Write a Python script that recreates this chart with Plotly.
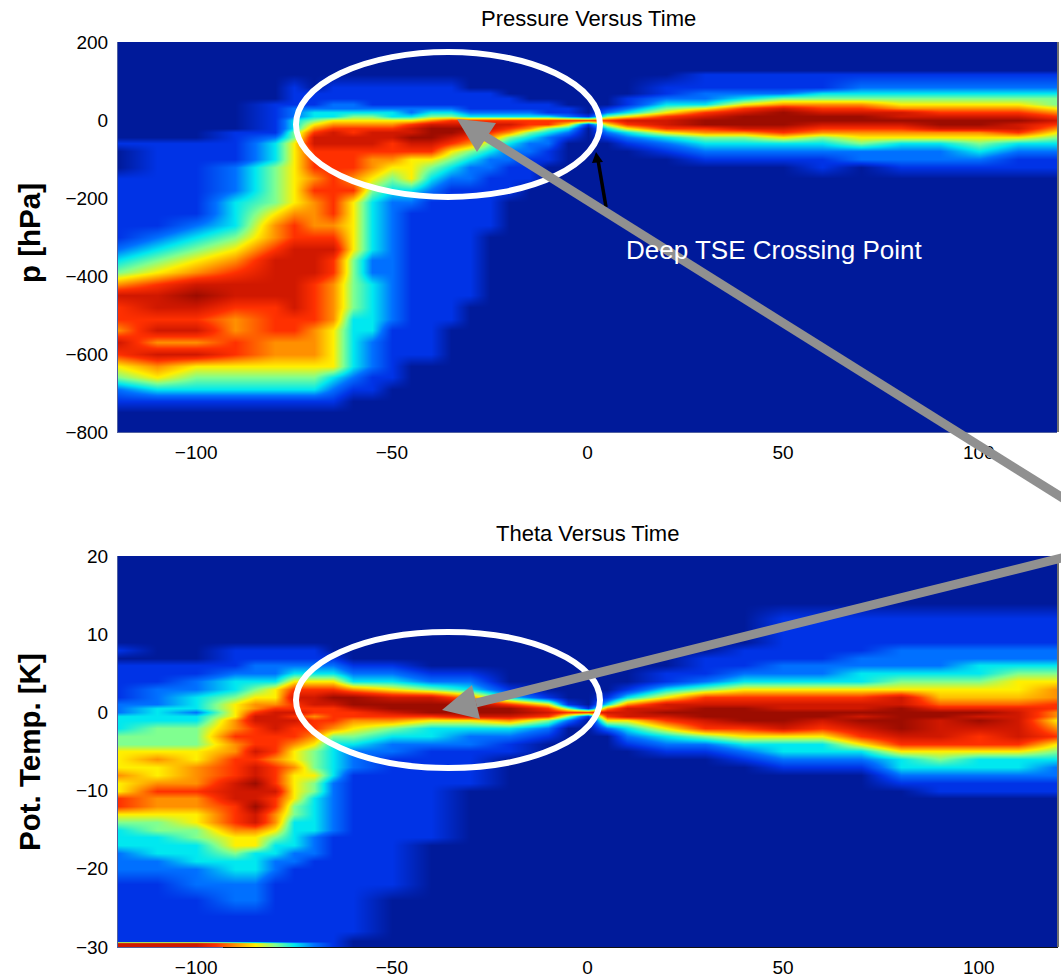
import plotly.graph_objects as go

W, H = 1061, 978

# Colour index: 0 = background navy ... 9 = darkest red
jet_colors = ["#001a9a", "#0033e6", "#0070ff", "#00e8f0", "#80ff90",
              "#fff000", "#ff9000", "#ff3000", "#d01800", "#9c0c00"]

p_levels = [128, 118, 85, 70, 55, 40, 30, 20, 10, 0, -10, -20, -30, -45, -60, -80, -100, -120,
            -150, -180, -210, -240, -270, -300, -330, -360, -390, -420, -450, -480, -510,
            -540, -570, -600, -630, -660, -690, -720, -750, -800]
p_times = [-120, -110, -100, -90, -80, -75, -70, -65, -60, -55, -50, -45, -40, -35, -30, -25, -20,
           -15, -10, -5, 0, 5, 10, 20, 30, 40, 50, 60, 70, 80, 90, 100, 110, 120]
# one list per time, from the top level downward; what is left out is background
p_density = [
    [0,0,0,0,0,0,0,0,0,0,0,0,0,0,1,0,0,0,1,1,1,1,1,1,2,3,4,6,8,7,7,6,8,7,5,4,2,1],
    [0,0,0,0,0,0,0,0,0,0,0,0,0,0,1,1,1,1,1,1,1,1,1,2,3,4,5,7,8,8,7,8,6,8,6,5,3,1],
    [0,0,0,0,0,0,0,0,0,0,0,0,0,0,1,1,1,1,1,1,1,1,2,3,4,5,6,8,9,8,7,8,6,8,5,4,3,1],
    [0,0,0,0,0,0,0,0,0,0,0,0,1,1,1,1,1,2,2,2,3,3,3,4,5,6,7,8,8,7,6,6,7,7,5,4,3,1],
    [0,0,0,0,0,1,1,1,1,1,1,1,1,2,3,3,3,4,4,4,4,5,6,6,7,8,8,8,8,7,7,7,6,6,5,4,3,1],
    [0,0,1,1,1,1,2,2,2,3,3,3,4,4,5,5,5,5,5,5,5,6,7,7,8,8,8,8,8,8,7,7,6,6,5,4,3,1],
    [0,0,0,1,1,1,2,3,3,4,5,6,7,8,8,7,7,7,6,7,6,6,6,7,8,8,8,7,7,7,7,6,6,6,5,4,3,1],
    [0,0,1,1,1,2,2,3,3,5,6,7,8,8,8,7,7,7,7,7,7,7,6,7,8,7,7,6,6,6,6,5,5,5,5,3,2,1],
    [0,0,1,1,1,2,2,3,4,5,6,7,7,8,8,7,7,7,6,7,5,5,5,5,5,4,4,4,4,4,3,3,3,3,3,2,1],
    [0,0,1,1,1,1,2,3,4,5,6,7,8,8,8,7,6,6,5,4,3,3,3,3,3,2,2,3,3,3,3,3,2,2,2,1,1],
    [0,0,1,1,1,1,2,3,3,5,6,7,8,8,7,7,6,5,4,3,2,2,2,2,2,2,2,2,2,2,2,1,1,1,1,1],
    [0,0,1,1,1,1,2,2,3,5,7,8,8,9,8,7,5,5,5,3,2,1,1,1,1,1,1,1,1,1,1,1,1,1],
    [0,0,1,1,1,1,2,3,4,6,8,9,9,9,8,7,5,4,3,2,1,1,1,1,1,1,1,1,1,1,1,1,1,1],
    [0,0,1,1,1,1,2,3,4,7,8,9,9,8,7,5,4,3,2,1,1,1,1,1,1,1,1,1,1,1,1],
    [0,0,0,1,1,1,1,2,3,7,8,9,8,7,6,4,3,2,2,1,1,1,1,1,1,1,1,1,1],
    [0,0,0,1,1,1,1,2,3,7,8,8,7,6,4,3,2,2,1,1,1,1,1],
    [0,0,0,0,1,1,1,2,3,7,8,7,6,4,3,2,2,1,1,1],
    [0,0,0,0,0,1,1,2,3,7,7,6,4,3,2,2,1,1,1],
    [0,0,0,0,0,1,1,1,3,7,7,4,3,2,2,1,1],
    [0,0,0,0,0,0,1,1,2,7,5,3,2,1],
    [0,0,0,0,0,0,0,0,1,7,1],
    [0,0,0,0,0,0,1,2,4,7,5,3,2,1],
    [0,0,0,0,1,1,2,3,5,8,7,5,3,2,1],
    [0,0,1,1,2,3,4,5,7,8,8,7,5,3,2,1],
    [0,1,1,2,2,3,5,7,8,9,9,7,6,4,3,2,1],
    [0,1,1,2,3,5,7,8,9,9,9,8,6,4,3,2,1],
    [0,1,1,2,4,6,8,9,9,9,9,8,7,5,3,2,1],
    [0,1,1,3,4,6,7,8,9,9,8,7,6,4,3,2,1,1],
    [0,1,2,3,4,6,7,8,9,9,8,7,6,5,4,2,2],
    [0,1,2,3,4,5,6,8,8,9,8,7,6,5,3,2,2,1],
    [0,1,2,3,4,5,6,7,8,9,9,8,6,5,3,2,2,1],
    [0,1,2,3,4,5,6,7,8,9,9,8,6,5,4,3,2,1],
    [0,1,2,3,4,5,6,7,8,9,8,8,7,5,3,2,1,1],
    [0,1,2,3,4,4,5,6,7,8,7,6,5,4,3,2,1,1],
]

t_levels = [14, 12, 9, 8, 7, 6, 5, 4, 3, 2, 1, 0.5, 0, -0.5, -1, -2, -3, -4, -5, -6, -7, -8, -9, -10,
            -11, -12, -13, -14, -15, -16, -17, -18, -19, -20, -22, -24, -26, -28, -29.2, -29.5, -30]
t_times = [-120, -110, -100, -90, -85, -80, -75, -70, -65, -60, -50, -40, -30, -20, -10, -5, 0, 5, 10,
           20, 30, 40, 50, 60, 70, 80, 90, 100, 110, 120]
t_density = [
    [0,0,0,1,0,1,1,1,1,1,2,2,2,3,3,3,4,4,5,5,5,6,5,5,7,7,5,4,3,3,3,2,2,2,1,1,1,1,1,8,8],
    [0,0,0,0,0,1,1,1,2,2,2,3,3,3,3,4,4,4,5,6,5,5,6,7,6,6,5,4,4,3,3,3,2,2,1,1,1,1,1,8,8],
    [0,0,0,0,0,1,1,2,2,3,3,3,2,3,3,4,4,4,5,5,6,6,6,7,6,6,5,5,4,4,3,3,3,2,2,1,1,1,1,8,8],
    [0,0,0,1,1,1,2,3,3,4,5,5,5,5,6,6,7,6,6,7,7,7,8,8,8,7,7,7,6,5,5,4,3,3,2,2,1,1,1,6,6],
    [0,0,0,1,1,2,2,3,4,5,6,6,7,8,8,7,7,7,8,7,8,8,9,8,8,9,8,8,6,5,5,3,3,3,2,2,1,1,1,5,5],
    [0,0,0,1,1,2,2,3,5,5,6,7,8,8,8,8,7,7,7,6,7,7,7,8,7,7,6,6,5,4,3,3,2,2,1,1,1,1,1,4,4],
    [0,0,0,1,1,2,3,5,7,8,7,7,8,7,8,7,7,6,5,5,6,5,5,5,5,4,4,3,3,3,3,2,2,1,1,1,1,1,1,3,3],
    [0,0,0,1,1,2,3,5,7,8,8,7,7,6,7,7,6,5,4,4,4,5,4,4,3,3,3,3,3,2,2,2,1,1,1,1,1,1,1,2,2],
    [0,0,0,0,1,2,3,5,7,9,8,7,7,7,7,6,4,3,3,3,3,3,2,2,2,2,2,2,2,1,1,1,1,1,1,1,1,1,1,1,1],
    [0,0,0,0,0,1,2,3,6,9,9,8,7,7,6,5,4,3,2,2,2,1,1,1,1,1,1,1,1,1,1,1,1,1,1,1,1,1],
    [0,0,0,0,0,1,2,3,5,8,9,9,8,7,6,4,3,2,2,1,1,1,1,1,1,1,1,1,1,1,1,1,1,1,1],
    [0,0,0,0,0,0,1,2,4,8,9,9,9,7,5,3,3,2,1,1,1,1,1,1,1,1,1,1,1,1],
    [0,0,0,0,0,0,1,2,3,6,9,9,9,8,5,3,2,2,1,1,1,1,1],
    [0,0,0,0,0,0,0,0,1,3,7,9,9,8,6,3,2,1,1],
    [0,0,0,0,0,0,0,0,0,1,5,7,8,7,4,2,1],
    [0,0,0,0,0,0,0,0,0,0,1,4,7,4,2],
    [0,0,0,0,0,0,0,0,0,0,0,1,7,1],
    [0,0,0,0,0,0,0,0,0,1,3,6,8,7,5,2],
    [0,0,0,0,0,0,0,0,1,3,6,8,8,8,5,3,2,1],
    [0,0,0,0,0,0,1,1,3,5,8,8,9,8,7,5,3,2,1],
    [0,0,0,0,1,1,1,2,4,7,8,9,9,9,8,7,4,2,1],
    [0,0,0,1,1,1,2,3,5,7,8,9,9,9,9,7,5,3,2,1],
    [0,1,1,1,1,2,2,3,5,7,8,8,9,9,9,8,5,3,3,2,1],
    [0,1,1,1,1,2,2,3,5,7,8,8,9,9,8,7,5,3,3,2,1],
    [0,1,1,1,2,2,3,3,5,7,8,8,9,8,9,8,7,5,3,2,1],
    [0,1,1,2,2,2,3,4,5,8,8,9,9,9,9,9,8,7,5,3,3,2,1],
    [0,1,1,2,2,2,3,4,5,5.5,6.5,7.5,9,9,8,8,8,7,5,4,3,2,1,1],
    [0,1,1,2,2,3,3,4,5,5.5,6.5,7.5,9,8,9,8,7,7,5,3,3,2,1,1],
    [0,1,1,2,2,3,4,5,5,5.5,6.5,7.5,8,8,8,8,8,7,5,3,3,2,1,1],
    [0,1,1,2,2,3,4,5,6,6,7,7,6,6,5,6,7,5,4,3,2,2,1,1],
]

x_ticks = [-100, -50, 0, 50, 100]
p_ticks = [200, 0, -200, -400, -600, -800]
t_ticks = [20, 10, 0, -10, -20, -30]

def pad(cols, n):
    return [c + [0] * (n - len(c)) for c in cols]

def to_rows(cols, n):
    filled = pad(cols, n)
    return [[c[i] for c in filled] for i in range(n)]

def px(x): return x / W
def py(y): return 1 - y / H

colorscale = [[i / 9, c] for i, c in enumerate(jet_colors)]
common = dict(colorscale=colorscale, zmin=0, zmax=9, zsmooth="best", showscale=False, hoverinfo="skip")

fig = go.Figure()
fig.add_trace(go.Heatmap(x=p_times, y=p_levels, z=to_rows(p_density, len(p_levels)), xaxis="x", yaxis="y", **common))
fig.add_trace(go.Heatmap(x=t_times, y=t_levels, z=to_rows(t_density, len(t_levels)), xaxis="x2", yaxis="y2", **common))

GREY = "#909090"
def seg(x0, y0, x1, y1, color, width):
    return dict(type="line", xref="paper", yref="paper", x0=px(x0), y0=py(y0), x1=px(x1), y1=py(y1),
                line=dict(color=color, width=width))

def tri(p, color):
    d = "M " + " L ".join(f"{px(x)} {py(y)}" for x, y in p) + " Z"
    return dict(type="path", xref="paper", yref="paper", fillcolor=color, line=dict(width=0), path=d)

shapes = [
    seg(1058, 42, 1058, 432, "#404040", 1.5),
    seg(1058, 556, 1058, 947, "#404040", 1.5),
    seg(223, 947.5, 1058, 947.5, "#101010", 1),
    dict(type="circle", xref="paper", yref="paper", x0=px(296), x1=px(600), y0=py(197), y1=py(52),
         line=dict(color="white", width=6)),
    dict(type="circle", xref="paper", yref="paper", x0=px(296), x1=px(600), y0=py(768), y1=py(632),
         line=dict(color="white", width=6)),
    seg(606, 207, 598, 160, "black", 3.5),
    tri([(596, 152), (592, 163), (603, 162)], "black"),
    seg(1066, 500, 486, 137, GREY, 9),
    tri([(457, 119), (496, 123), (477, 152)], GREY),
    seg(1066, 557, 476, 703, GREY, 9),
    tri([(442, 710), (472, 685), (480, 719)], GREY),
]

FONT = "Liberation Sans"
def note(text, x, y, size, color="black", bold=False, angle=0, xanchor="center"):
    return dict(text=f"<b>{text}</b>" if bold else text, xref="paper", yref="paper",
                x=px(x), y=py(y), xanchor=xanchor, yanchor="middle", showarrow=False, textangle=angle,
                font=dict(family=FONT, size=size, color=color))

annotations = [
    note("Pressure Versus Time", 588, 18, 22),
    note("Theta Versus Time", 587, 533, 22),
    note("Deep TSE Crossing Point", 624, 250, 26, color="white", xanchor="left"),
    note("p [hPa]", 29, 233, 29.5, bold=True, angle=-90),
    note("Pot. Temp. [K]", 29, 752, 29.5, bold=True, angle=-90),
]

tick_font = dict(family=FONT, size=19, color="black")
xcommon = dict(range=[-120, 120], tickvals=x_ticks, ticklen=0, showgrid=False, zeroline=False,
               tickfont=tick_font, showline=True, linecolor="#5060a0", linewidth=1, mirror=False,
               ticklabelstandoff=3)
ycommon = dict(ticklen=0, showgrid=False, zeroline=False, tickfont=tick_font, showline=True,
               linecolor="#5060a0", linewidth=1, ticklabelstandoff=5)

fig.update_layout(
    width=W, height=H, autosize=False, margin=dict(l=0, r=0, t=0, b=0, autoexpand=False),
    paper_bgcolor="white", plot_bgcolor=jet_colors[0], showlegend=False,
    xaxis=dict(domain=[px(118), px(1057)], anchor="y", **xcommon),
    yaxis=dict(domain=[py(432), py(42)], anchor="x", range=[-800, 200], tickvals=p_ticks, **ycommon),
    xaxis2=dict(domain=[px(118), px(1057)], anchor="y2", **xcommon),
    yaxis2=dict(domain=[py(947), py(556)], anchor="x2", range=[-30, 20], tickvals=t_ticks, **ycommon),
    shapes=shapes, annotations=annotations,
)
fig.write_html("out.html", config={"displayModeBar": False},
               post_script="document.body.style.margin='0';document.body.style.overflow='hidden';")
